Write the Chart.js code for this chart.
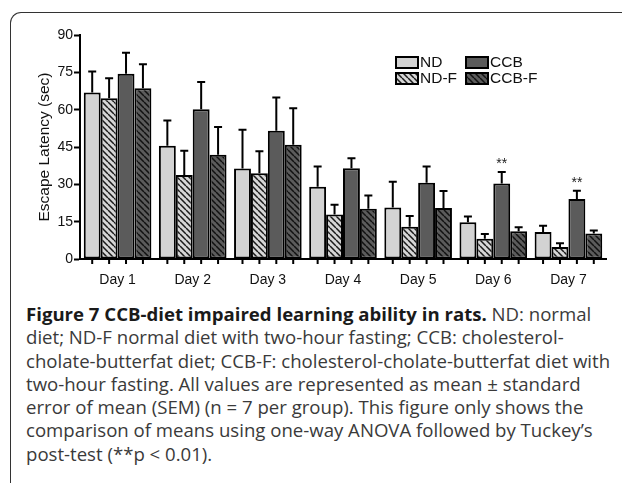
<!DOCTYPE html>
<html>
<head>
<meta charset="utf-8">
<script src="https://cdn.jsdelivr.net/npm/chart.js@4"></script>
<style>
  body { margin: 0; background: #fff; width: 622px; height: 483px; overflow: hidden; position: relative; }
  #frame { position: absolute; left: 10px; top: 12px; width: 640px; height: 470px;
           border-top: 1.5px solid #333; border-left: 1.5px solid #333; border-top-left-radius: 11px; }
  #wrap { position: absolute; left: 0; top: 0; width: 622px; height: 290px; }
  #caption { position: absolute; left: 26px; top: 302px; font-family: "Open Sans", sans-serif;
             font-size: 18.6px; line-height: 23.3px; color: #3a3a3a; white-space: nowrap; }
  #caption b { color: #1a1a1a; }
</style>
</head>
<body>
<div id="frame"></div>
<div id="wrap"><canvas id="chart" width="622" height="290"></canvas></div>
<div id="caption">
  <div><b>Figure 7 CCB-diet impaired learning ability in rats.</b> ND: normal</div>
  <div>diet; ND-F normal diet with two-hour fasting; CCB: cholesterol-</div>
  <div>cholate-butterfat diet; CCB-F: cholesterol-cholate-butterfat diet with</div>
  <div>two-hour fasting. All values are represented as mean ± standard</div>
  <div>error of mean (SEM) (n = 7 per group). This figure only shows the</div>
  <div>comparison of means using one-way ANOVA followed by Tuckey’s</div>
  <div>post-test (**p &lt; 0.01).</div>
</div>
<script>
// values (seconds)
const days = ['Day 1', 'Day 2', 'Day 3', 'Day 4', 'Day 5', 'Day 6', 'Day 7'];
const ndMean = [66.9, 45.5, 36.4, 29.0, 20.7, 14.8, 10.8];
const ndSem = [8.4, 10.1, 15.5, 8.2, 10.3, 2.3, 2.6];
const ndfMean = [64.6, 33.7, 34.5, 17.9, 13.0, 8.1, 4.8];
const ndfSem = [8.0, 9.8, 8.8, 3.9, 4.3, 1.9, 1.5];
const ccbMean = [74.4, 60.2, 51.5, 36.5, 30.6, 30.3, 24.1];
const ccbSem = [8.5, 10.9, 13.4, 4.0, 6.6, 4.7, 3.3];
const ccbfMean = [68.6, 41.9, 45.9, 20.2, 20.5, 11.1, 10.2];
const ccbfSem = [9.6, 11.1, 14.7, 5.3, 6.8, 1.7, 1.3];
const ccbStars = ['', '', '', '', '', '**', '**'];
const yTicks = [0, 15, 30, 45, 60, 75, 90];

const FONT = '"Liberation Sans", Arial, sans-serif';

// diagonal hatch fill
function hatch(bg, fg) {
    const c = document.createElement('canvas');
    c.width = 6; c.height = 6;
    const x = c.getContext('2d');
    x.fillStyle = bg;
    x.fillRect(0, 0, 6, 6);
    x.strokeStyle = fg;
    x.lineWidth = 1.5;
    x.beginPath();
    for (let k = -6; k <= 12; k += 6) { x.moveTo(k, 0); x.lineTo(k + 6, 6); }
    x.stroke();
    return x.createPattern(c, 'repeat');
}

const fills = [
    '#d3d3d3',
    hatch('#d6d6d6', '#1a1a1a'),
    '#5b5b5b',
    hatch('#5b5b5b', '#111')
];
const sems = [ndSem, ndfSem, ccbSem, ccbfSem];

const extras = {
    id: 'extras',
    afterDatasetsDraw(chart) {
        const ctx = chart.ctx;
        const y = chart.scales.y;
        const bottom = chart.chartArea.bottom;
        ctx.save();
        ctx.strokeStyle = '#000';
        ctx.lineWidth = 2;
        chart.data.datasets.forEach((ds, i) => {
            chart.getDatasetMeta(i).data.forEach((bar, j) => {
                const top = y.getPixelForValue(ds.data[j] + sems[i][j]);
                ctx.beginPath();
                ctx.moveTo(bar.x, bar.y);
                ctx.lineTo(bar.x, top);
                ctx.moveTo(bar.x - 4, top);
                ctx.lineTo(bar.x + 4, top);
                // tick under the axis at each bar
                ctx.moveTo(bar.x, bottom);
                ctx.lineTo(bar.x, bottom + 5);
                ctx.stroke();
                if (i === 2 && ccbStars[j]) {
                    ctx.fillStyle = '#222';
                    ctx.font = '14px ' + FONT;
                    ctx.textAlign = 'center';
                    ctx.textBaseline = 'middle';
                    ctx.fillText(ccbStars[j], bar.x, top - 8);
                }
            });
        });
        ctx.restore();
    },
    afterDraw(chart) {
        const ctx = chart.ctx;
        ctx.save();
        const spots = [[396, 57], [396, 73], [466, 57], [466, 73]];
        chart.data.datasets.forEach((ds, i) => {
            const [lx, ly] = spots[i];
            ctx.fillStyle = fills[i];
            ctx.fillRect(lx, ly, 22, 11);
            ctx.strokeStyle = '#000';
            ctx.lineWidth = 2;
            ctx.strokeRect(lx, ly, 22, 11);
            ctx.fillStyle = '#111';
            ctx.font = '15.5px ' + FONT;
            ctx.textAlign = 'left';
            ctx.textBaseline = 'middle';
            ctx.fillText(ds.label, lx + 24, ly + 6);
        });
        ctx.restore();
    }
};

new Chart(document.getElementById('chart'), {
    type: 'bar',
    data: {
        labels: days,
        datasets: [
            { label: 'ND', data: ndMean },
            { label: 'ND-F', data: ndfMean },
            { label: 'CCB', data: ccbMean },
            { label: 'CCB-F', data: ccbfMean }
        ].map((d, i) => Object.assign(d, {
            backgroundColor: fills[i],
            borderColor: '#000',
            borderWidth: 2,
            borderSkipped: false,
            categoryPercentage: 0.9,
            barPercentage: 1
        }))
    },
    options: {
        responsive: false,
        devicePixelRatio: 1,
        animation: false,
        layout: { padding: { left: 0, right: 16, top: 35, bottom: 0 } },
        plugins: { legend: { display: false }, tooltip: { enabled: false } },
        scales: {
            x: {
                grid: { display: false },
                border: { display: true, color: '#000', width: 2 },
                ticks: { color: '#111', font: { family: FONT, size: 14 }, padding: 5 },
                afterFit: (axis) => { axis.height = 31; }
            },
            y: {
                min: 0, max: 90,
                afterBuildTicks: (axis) => { axis.ticks = yTicks.map(v => ({ value: v })); },
                grid: { drawOnChartArea: false, tickLength: 6, tickWidth: 2, tickColor: '#000' },
                border: { display: true, color: '#000', width: 2 },
                ticks: { color: '#111', font: { family: FONT, size: 14 }, padding: 1 },
                title: {
                    display: true, text: 'Escape Latency (sec)', color: '#111',
                    font: { family: FONT, size: 15.5 }, padding: { top: 35, bottom: 0 }
                },
                afterFit: (axis) => { axis.width = 80; }
            }
        }
    },
    plugins: [extras]
});
</script>
</body>
</html>
